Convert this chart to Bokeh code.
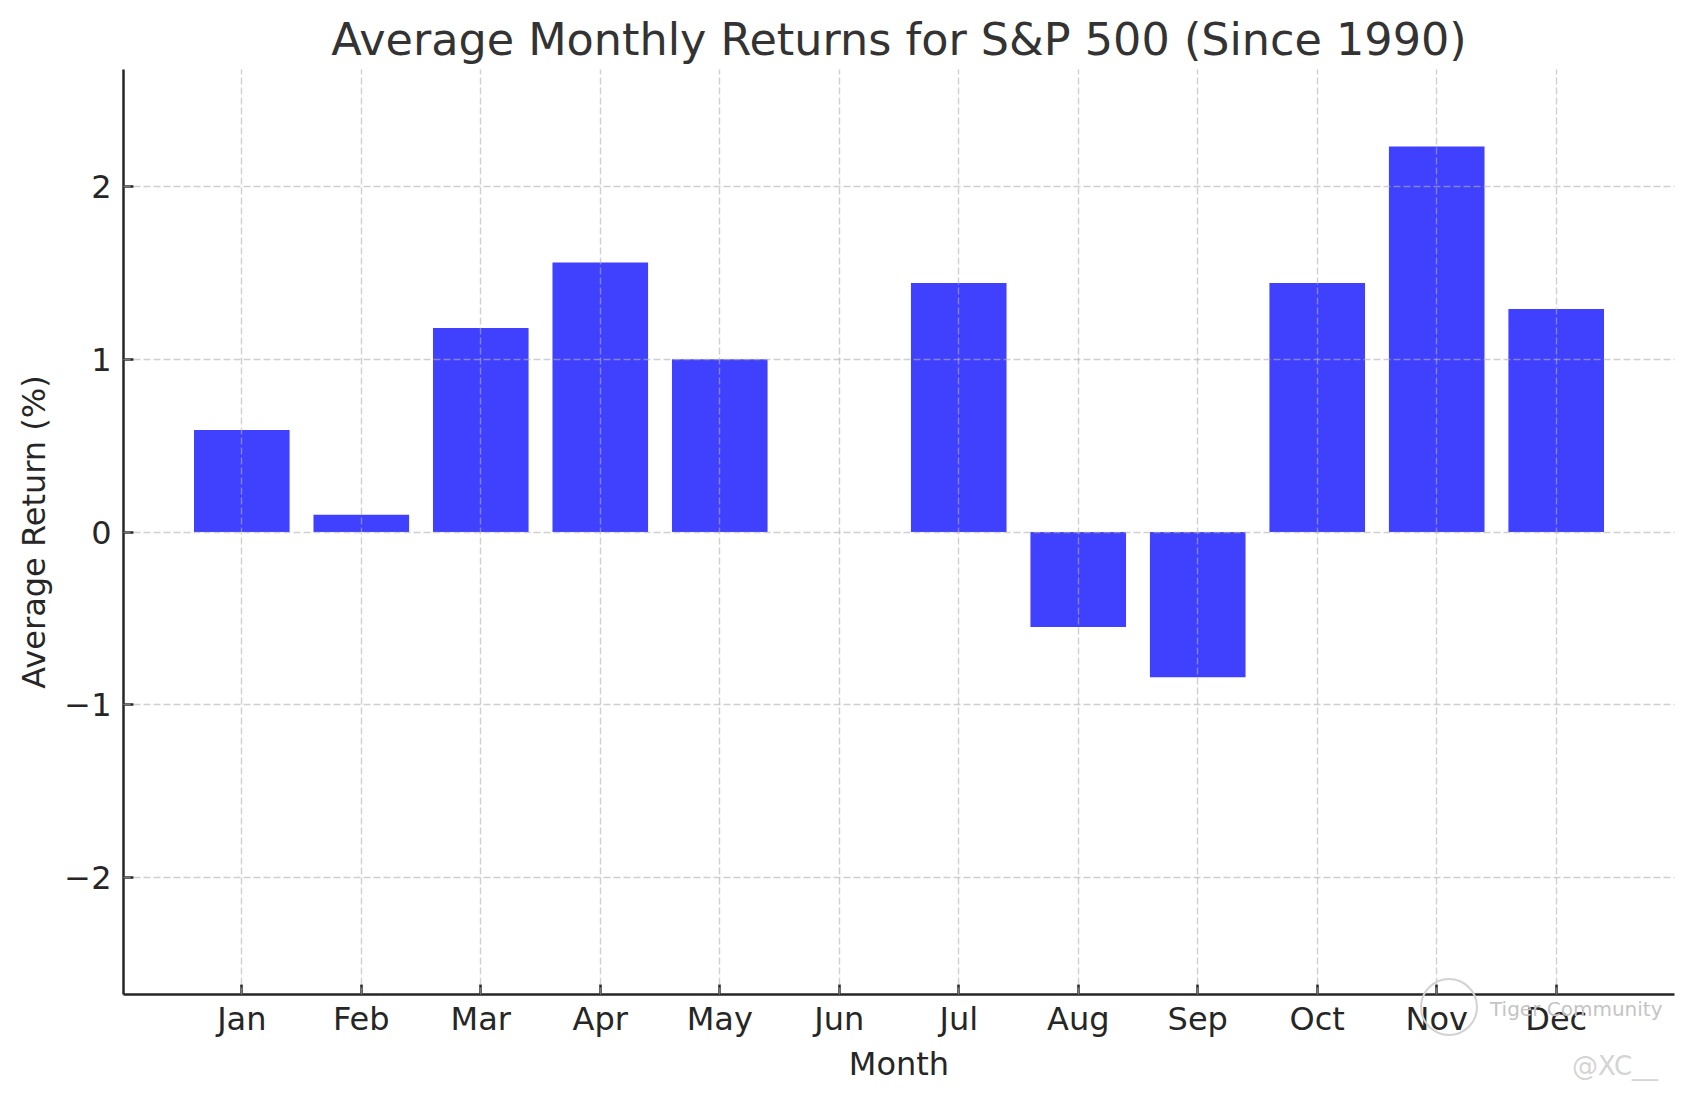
from bokeh.plotting import figure
from bokeh.models import FactorRange, Range1d, FixedTicker, Div
from bokeh.layouts import column
from bokeh.embed import file_html
from bokeh.resources import INLINE

months = ["Jan", "Feb", "Mar", "Apr", "May", "Jun", "Jul", "Aug", "Sep", "Oct", "Nov", "Dec"]
avg_returns = [0.59, 0.10, 1.18, 1.56, 1.00, 0.00, 1.44, -0.55, -0.84, 1.44, 2.23, 1.29]
y_ticks = [-2, -1, 0, 1, 2]
y_tick_labels = ["\u22122", "\u22121", "0", "1", "2"]
watermark_brand = "Tiger Community"
watermark_user = "@XC__"

FONT = "DejaVu Sans"
INK = "#262626"
W, H = 1677, 1085

fig = figure(
    x_range=FactorRange(factors=months, range_padding=0.49, range_padding_units="absolute"),
    y_range=Range1d(-2.676, 2.676),
    width=W, height=H,
    output_backend="svg", toolbar_location=None,
    min_border_left=123, min_border_right=3, min_border_top=69, min_border_bottom=91,
    background_fill_color="white", border_fill_color="white",
)
fig.outline_line_color = None

fig.vbar(x=months, top=avg_returns, width=0.8, fill_color="#4040ff", line_color=None)

# title
fig.title.text = "Average Monthly Returns for S&P 500 (Since 1990)"
fig.title.align = "center"
fig.title.text_font = FONT
fig.title.text_font_size = "44.5px"
fig.title.text_font_style = "normal"
fig.title.text_color = "#333333"

# axes
for ax in (fig.xaxis[0], fig.yaxis[0]):
    ax.axis_line_color = INK
    ax.axis_line_width = 2.5
    ax.major_tick_line_color = INK
    ax.major_tick_line_width = 2.5
    ax.major_tick_in = 10
    ax.major_tick_out = 0
    ax.minor_tick_line_color = None
    ax.major_label_text_font = FONT
    ax.major_label_text_font_size = "32px"
    ax.major_label_text_color = INK
    ax.axis_label_text_font = FONT
    ax.axis_label_text_font_size = "32px"
    ax.axis_label_text_font_style = "normal"
    ax.axis_label_text_color = INK

fig.xaxis.axis_label = "Month"
fig.xaxis.major_label_standoff = 5
fig.xaxis.axis_label_standoff = 4

fig.yaxis.axis_label = "Average Return (%)"
fig.yaxis.ticker = FixedTicker(ticks=y_ticks)
fig.yaxis.major_label_overrides = {t: s for t, s in zip(y_ticks, y_tick_labels)}
fig.yaxis.major_label_standoff = 12
fig.yaxis.axis_label_standoff = 8

# grid
for g in (fig.xgrid[0], fig.ygrid[0]):
    g.grid_line_color = "#b0b0b0"
    g.grid_line_alpha = 0.6
    g.grid_line_width = 1.4
    g.grid_line_dash = "7 3"
    g.level = "overlay"
fig.ygrid.ticker = FixedTicker(ticks=y_ticks)

# faint watermark overlaid on the lower-right corner
wm_html = (
    "<div style=\"position:relative;width:270px;height:110px;font-family:'DejaVu Sans';\">"
    "<div style=\"position:absolute;left:7px;top:8px;width:58px;height:58px;"
    "border:2px solid #d2d2d2;border-radius:50%;box-sizing:border-box;\"></div>"
    "<span style=\"position:absolute;left:77px;top:28px;font-size:20px;line-height:22px;"
    "color:#c4c4c4;white-space:nowrap;\">" + watermark_brand + "</span>"
    "<span style=\"position:absolute;left:159px;top:82px;font-size:26px;line-height:28px;"
    "color:#d4d4d4;white-space:nowrap;\">" + watermark_user + "</span>"
    "</div>"
)
wm = Div(text=wm_html, width=270, height=110, margin=(-115, 0, 0, 1413))

p = column(fig, wm, spacing=0)

open("out.html", "w").write(file_html(p, INLINE))
